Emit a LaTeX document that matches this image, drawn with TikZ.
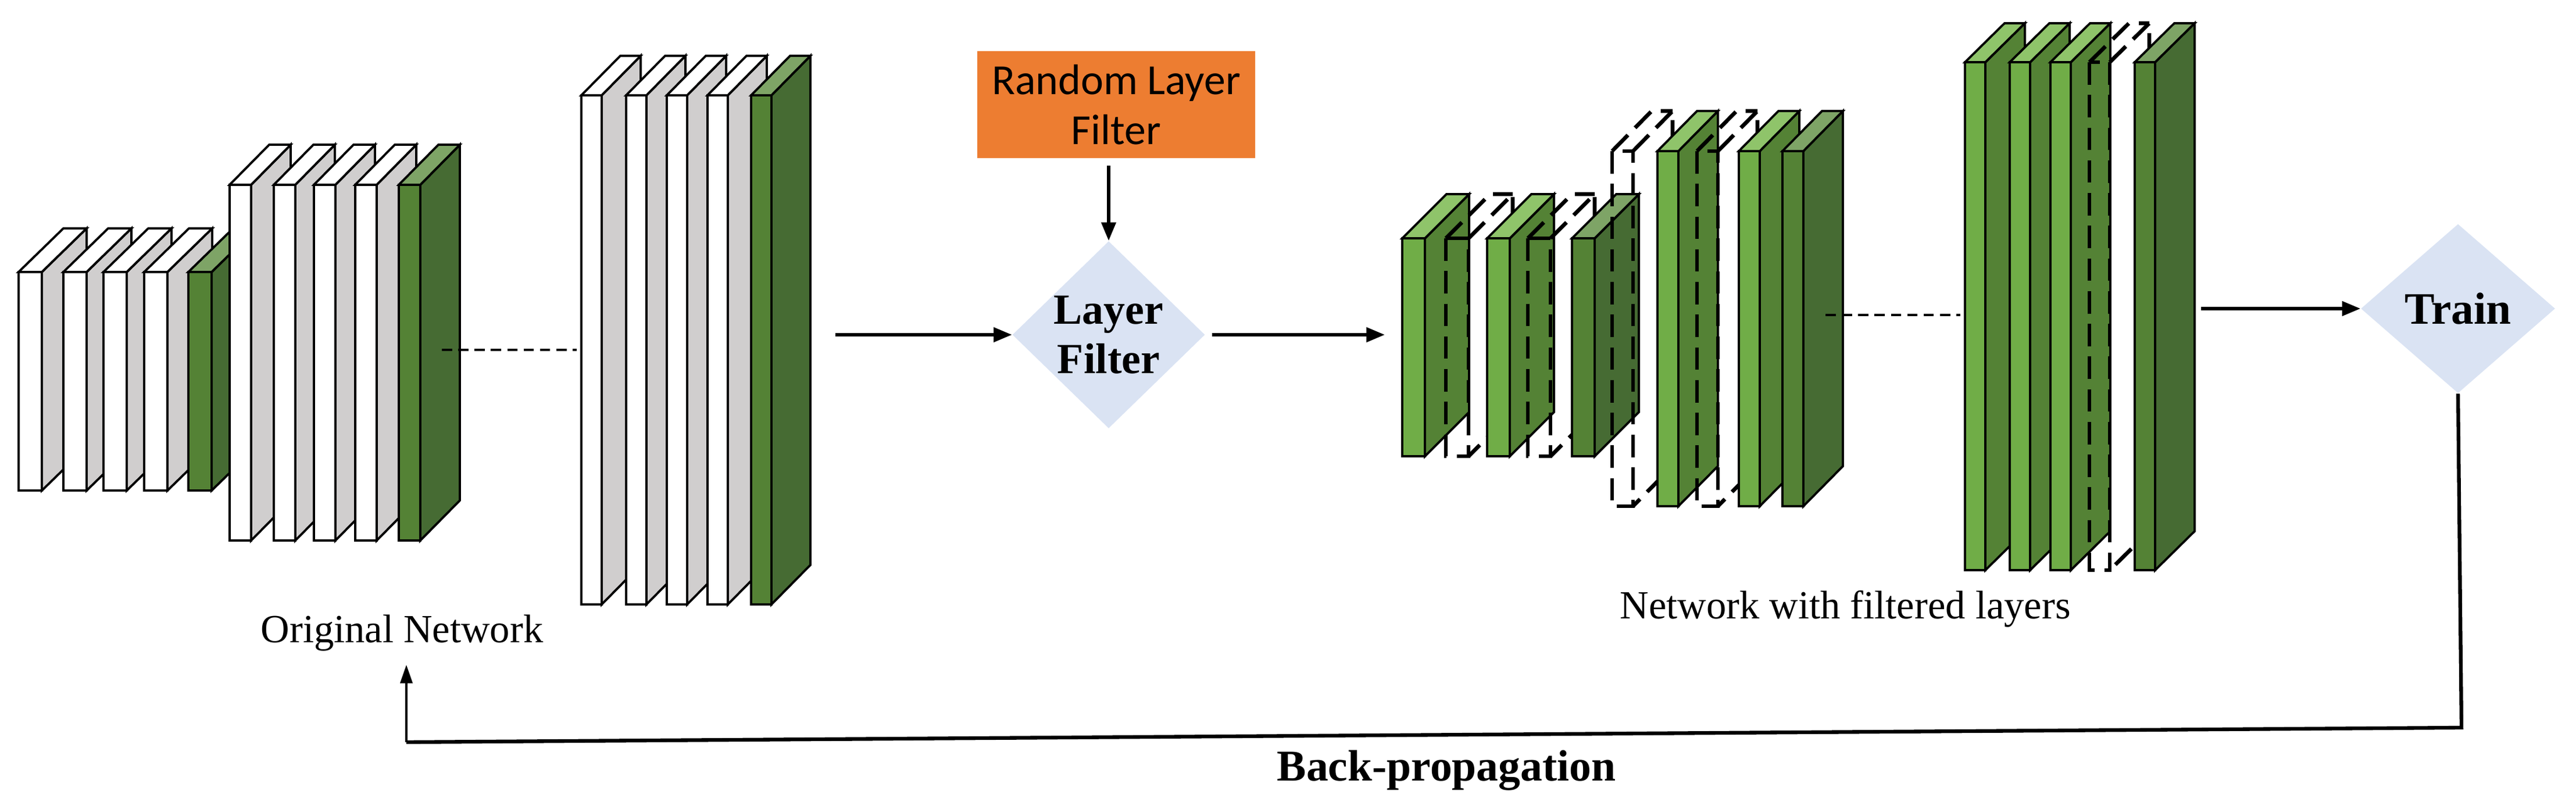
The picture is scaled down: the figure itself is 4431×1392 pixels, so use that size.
\documentclass[tikz,border=0pt]{standalone}
\usepackage{fontspec}
\setmainfont{Liberation Serif}
\newfontfamily\carl{Carlito}
\newfontfamily\tms{Liberation Serif}
\usetikzlibrary{shapes.geometric,arrows.meta}
\definecolor{lgF}{HTML}{70AD47}
\definecolor{lgS}{HTML}{5E8F3E}
\definecolor{lgT}{HTML}{8FC46A}
\definecolor{dgF}{HTML}{548235}
\definecolor{dgS}{HTML}{466B33}
\definecolor{dgT}{HTML}{7EA466}
\definecolor{gyS}{HTML}{D0CECE}
\definecolor{dia}{HTML}{DAE3F3}
\definecolor{org}{HTML}{ED7D31}
% #1 x, #2 top, #3 bottom, #4 width, #5 dx, #6 dy, #7 front, #8 side, #9 top colour
\newcommand\mySlab[9]{%
  \filldraw[slab,fill=#7] (#1,#2) rectangle (#1+#4,#3);
  \filldraw[slab,fill=#8] (#1+#4,#2) -- (#1+#4+#5,#2-#6) -- (#1+#4+#5,#3-#6) -- (#1+#4,#3) -- cycle;
  \filldraw[slab,fill=#9] (#1,#2) -- (#1+#5,#2-#6) -- (#1+#4+#5,#2-#6) -- (#1+#4,#2) -- cycle;}
\newcommand\myGhost[6]{%
  \draw[ghost] (#1,#2) rectangle (#1+#4,#3);
  \draw[ghost] (#1+#4,#2) -- (#1+#4+#5,#2-#6) -- (#1+#4+#5,#3-#6) -- (#1+#4,#3);
  \draw[ghost] (#1,#2) -- (#1+#5,#2-#6) -- (#1+#4+#5,#2-#6);}
\begin{document}
\begin{tikzpicture}[x=0.01cm,y=-0.01cm,
  slab/.style={line width=1.1pt,line join=miter},
  ghost/.style={line width=1.9pt,dash pattern=on 11pt off 5pt},
  arr/.style={line width=1.6pt,-{Triangle[length=9pt,width=7pt]}},
  dots/.style={line width=1pt,dash pattern=on 5pt off 3pt},
  dec/.style={shape=diamond,fill=dia,draw=none,inner sep=0pt,align=center}]
\useasboundingbox (0,0) rectangle (4431,1392);
% group 1
\foreach \x in {32,109,178,248}{\mySlab{\x}{468}{844}{40}{77}{75}{white}{gyS}{white}}
\mySlab{324}{468}{844}{40}{77}{75}{dgF}{dgS}{dgT}
% group 2
\foreach \x in {395,471,540,611}{\mySlab{\x}{318}{930}{37}{68}{69}{white}{gyS}{white}}
\mySlab{686}{318}{930}{37}{68}{69}{dgF}{dgS}{dgT}
% group 3
\foreach \x in {1000,1077,1147,1217}{\mySlab{\x}{164}{1040}{35}{67}{68}{white}{gyS}{white}}
\mySlab{1292}{164}{1040}{35}{67}{68}{dgF}{dgS}{dgT}
\coordinate (d1a) at (760,602); \coordinate (d1b) at (992,602);
\draw[dots] (d1a) -- (d1b);
% group 4
\mySlab{2412}{410}{785}{39}{76}{76}{lgF}{dgF}{lgT}
\myGhost{2487}{410}{785}{39}{76}{76}
\mySlab{2558}{410}{785}{39}{76}{76}{lgF}{dgF}{lgT}
\myGhost{2628}{410}{785}{39}{76}{76}
\mySlab{2704}{410}{785}{39}{76}{76}{dgF}{dgS}{dgT}
\myGhost{2773}{260}{871}{36}{68}{69}
% group 5
\mySlab{2851}{260}{871}{36}{68}{69}{lgF}{dgF}{lgT}
\myGhost{2919}{260}{871}{36}{68}{69}
\mySlab{2991}{260}{871}{36}{68}{69}{lgF}{dgF}{lgT}
\mySlab{3066}{260}{871}{36}{68}{69}{dgF}{dgS}{dgT}
\coordinate (d2a) at (3140,542); \coordinate (d2b) at (3372,542);
\draw[dots] (d2a) -- (d2b);
% group 6
\foreach \x in {3380,3457,3527}{\mySlab{\x}{107}{981}{35}{68}{67}{lgF}{dgF}{lgT}}
\myGhost{3594}{107}{981}{35}{68}{67}
\mySlab{3672}{107}{981}{35}{68}{67}{dgF}{dgS}{dgT}
% nodes
\node[fill=org,minimum width=4.77cm,minimum height=1.83cm,align=center,font=\carl\fontsize{21}{24.5}\selectfont,inner sep=0pt] (rlf) at (1920,180) {Random Layer\\Filter};
\node[dec,minimum width=3.31cm,minimum height=3.21cm,font=\tms\bfseries\fontsize{21}{24}\selectfont] (lf) at (1907,576) {Layer\\Filter};
\node[dec,minimum width=3.34cm,minimum height=2.91cm,font=\tms\bfseries\fontsize{22}{26}\selectfont] (tr) at (4228,531) {Train};
\node[anchor=base west,inner sep=0pt,font=\tms\fontsize{19.5}{23}\selectfont] (on) at (448,1105) {Original Network};
\node[anchor=base west,inner sep=0pt,font=\tms\fontsize{19.5}{23}\selectfont] (nf) at (2786,1064) {Network with filtered layers};
\node[anchor=base west,inner sep=0pt,font=\tms\bfseries\fontsize{21.5}{25}\selectfont] (bp) at (2196,1343) {Back-propagation};
% connectors
\coordinate (rlfa) at (1907,285);
\draw[arr] (rlfa) -- (lf.north);
\coordinate (ina) at (1437,576);
\draw[arr] (ina) -- (lf.west);
\coordinate (outb) at (2382,576);
\draw[arr] (lf.east) ++(12,0) -- (outb);
\coordinate (tra) at (3786,531);
\draw[arr] (tra) -- (tr.west);
\coordinate (bk1) at (4234,1252);
\coordinate (bk2) at (699,1277);
\coordinate (bk3) at (699,1144);
\draw[line width=1.8pt,line join=miter] (tr.south) -- (bk1) -- (bk2);
\draw[line width=1pt,-{Triangle[length=9pt,width=6pt]}] (bk2) -- (bk3);
\end{tikzpicture}
\end{document}
